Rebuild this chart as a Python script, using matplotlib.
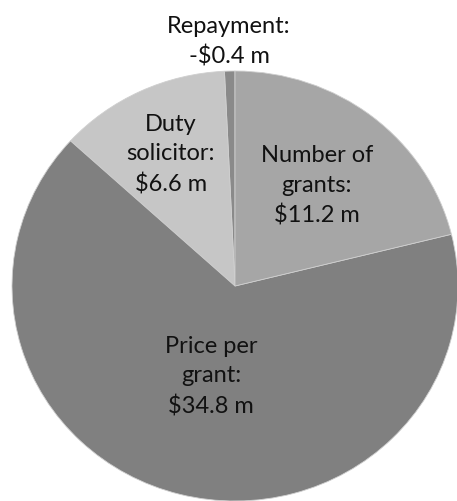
import numpy as np
import matplotlib
matplotlib.use("Agg")
import matplotlib.pyplot as plt

# Data
categories = ["Repayment", "Duty\nsolicitor", "Price per\ngrant", "Number of\ngrants"]
values = [-0.4, 6.6, 34.8, 11.2]

# Style
colors = ["#8a8a8a", "#c6c6c6", "#808080", "#a6a6a6"]
label_dist = [1.14, 0.68, 0.43, 0.595]

W, H = 457, 502
fig = plt.figure(figsize=(W / 100, H / 100), dpi=100)
ax = fig.add_axes([0, 0, 1, 1])
cx, cy = 235, 287          # pixel centre (from top)
rx, ry = 223, 215          # pixel radii

wedges, _ = ax.pie([abs(v) for v in values], colors=colors, startangle=90,
                   counterclock=True, radius=1, frame=True,
                   wedgeprops=dict(linewidth=0.6, edgecolor="#cfcfcf"))
ax.set_aspect("auto")
ax.set_xlim(-cx / rx, (W - cx) / rx)
ax.set_ylim(-(H - cy) / ry, cy / ry)
ax.axis("off")

def fmt(v):
    s = "-" if v < 0 else ""
    return f"{s}${abs(v):.1f} m"

for w, cat, v, d in zip(wedges, categories, values, label_dist):
    ang = np.deg2rad((w.theta1 + w.theta2) / 2)
    ax.text(d * np.cos(ang), d * np.sin(ang), f"{cat}:\n{fmt(v)}",
            ha="center", va="center", fontsize=17,
            family=["Lato", "DejaVu Sans"], color="#111111",
            linespacing=1.5)

fig.savefig("out.png", dpi=100, facecolor="white")
